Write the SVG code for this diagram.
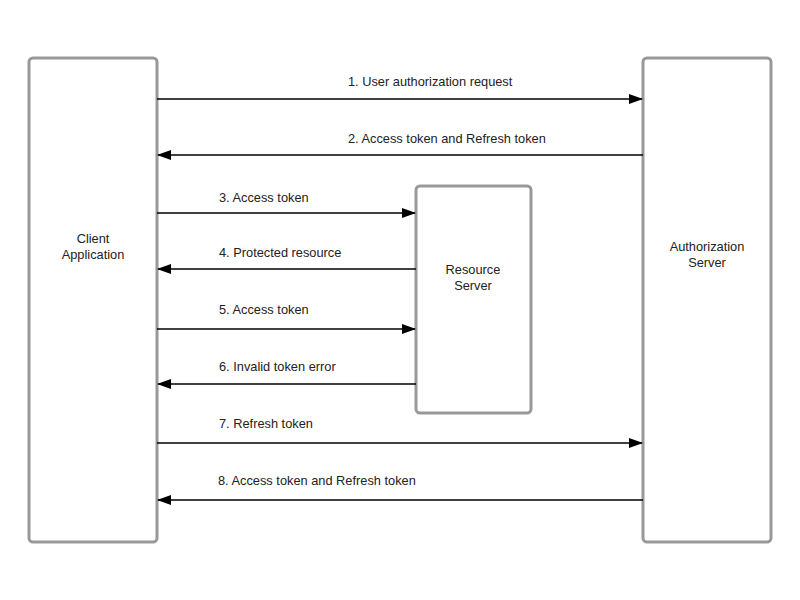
<svg xmlns="http://www.w3.org/2000/svg" width="800" height="600" viewBox="0 0 800 600">
<style>
.box{fill:#fff;stroke:#999;stroke-width:3}
.ln{stroke:#000;stroke-width:1.3;fill:none}
text{font-family:"Liberation Sans",Arial,sans-serif;font-size:12.8px;fill:#222}
.c{text-anchor:middle}
</style>
<defs>
<marker id="ah" markerWidth="14" markerHeight="10" refX="13" refY="5" orient="auto" markerUnits="userSpaceOnUse">
<path d="M0,0 L14,5 L0,10 Z" fill="#000"/>
</marker>
</defs>
<rect width="800" height="600" fill="#fff"/>
<g id="client"><rect class="box" x="29" y="58" width="128" height="484" rx="4"/>
<text class="c" x="93" y="243">Client</text><text class="c" x="93" y="259">Application</text></g>
<g id="auth"><rect class="box" x="643" y="58" width="128" height="484" rx="4"/>
<text class="c" x="707" y="251">Authorization</text><text class="c" x="707" y="267">Server</text></g>
<g id="resource"><rect class="box" x="416" y="186" width="115" height="227" rx="4"/>
<text class="c" x="473" y="274">Resource</text><text class="c" x="473" y="290">Server</text></g>
<g id="connectors">
<line class="ln" x1="157" y1="99" x2="642" y2="99" marker-end="url(#ah)"/>
<line class="ln" x1="643" y1="155" x2="158" y2="155" marker-end="url(#ah)"/>
<line class="ln" x1="157" y1="213" x2="415" y2="213" marker-end="url(#ah)"/>
<line class="ln" x1="416" y1="269" x2="158" y2="269" marker-end="url(#ah)"/>
<line class="ln" x1="157" y1="329" x2="415" y2="329" marker-end="url(#ah)"/>
<line class="ln" x1="416" y1="384" x2="158" y2="384" marker-end="url(#ah)"/>
<line class="ln" x1="157" y1="443" x2="642" y2="443" marker-end="url(#ah)"/>
<line class="ln" x1="643" y1="500" x2="158" y2="500" marker-end="url(#ah)"/>
<text x="348" y="86">1. User authorization request</text>
<text x="348" y="143">2. Access token and Refresh token</text>
<text x="219" y="202">3. Access token</text>
<text x="219" y="257">4. Protected resource</text>
<text x="219" y="314">5. Access token</text>
<text x="219" y="371">6. Invalid token error</text>
<text x="219" y="428">7. Refresh token</text>
<text x="218" y="485">8. Access token and Refresh token</text>
</g>
</svg>
